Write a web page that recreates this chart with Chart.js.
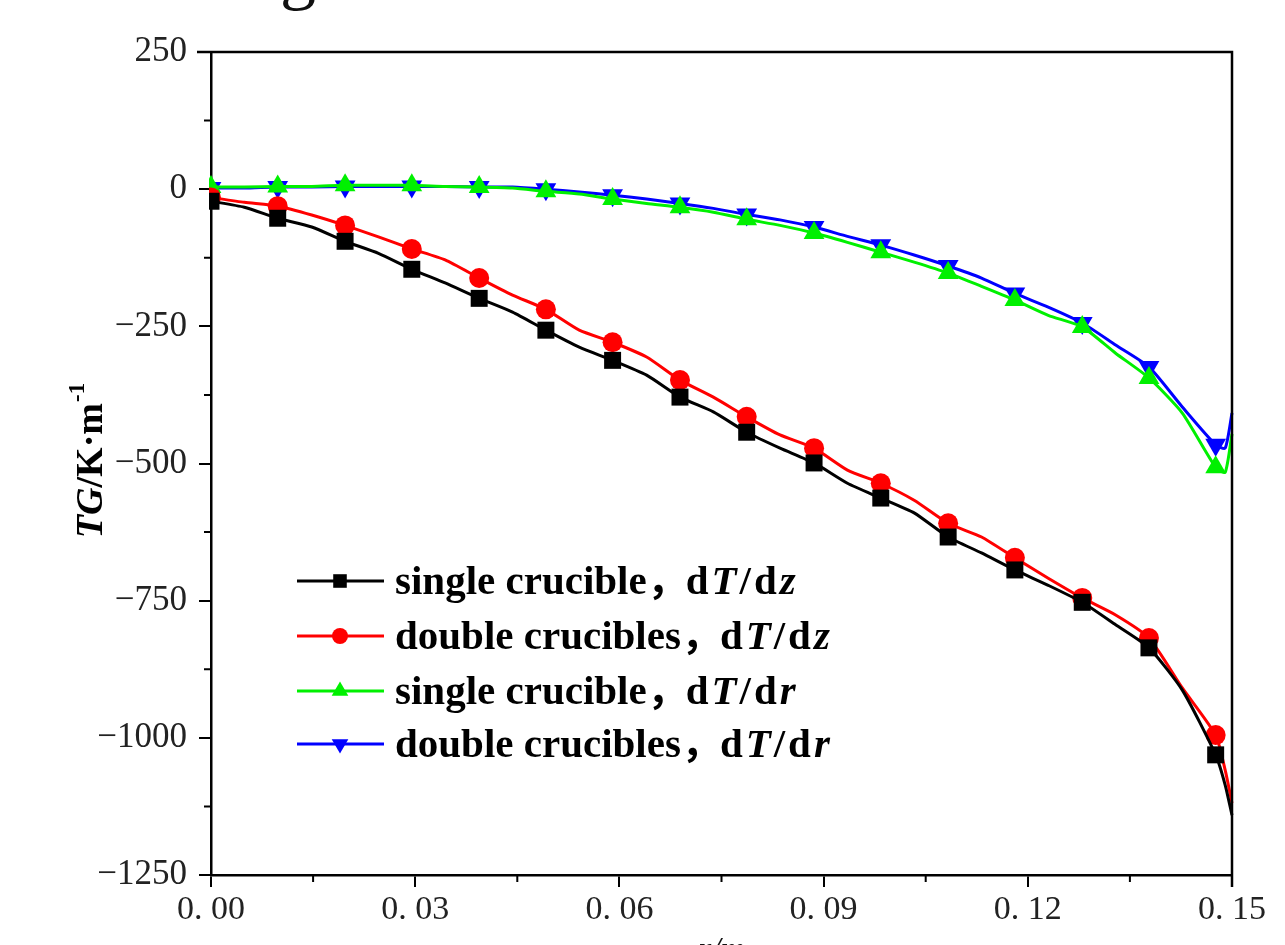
<!DOCTYPE html>
<html>
<head>
<meta charset="utf-8">
<script src="https://cdn.jsdelivr.net/npm/chart.js@4.4.1/dist/chart.umd.min.js"></script>
<style>
    html, body { margin: 0; padding: 0; background: #fff; }
    canvas { display: block; }
</style>
</head>
<body>
<canvas id="tgChart" width="1285" height="945"></canvas>
<script>
// radial position r/m
const positions = [0, 0.0049, 0.0098, 0.0148, 0.0197, 0.0246, 0.0295, 0.0344, 0.0394, 0.0443,
    0.0492, 0.0541, 0.0590, 0.0640, 0.0689, 0.0738, 0.0787, 0.0836, 0.0886, 0.0935,
    0.0984, 0.1033, 0.1083, 0.1132, 0.1181, 0.1230, 0.1280, 0.1329, 0.1378, 0.1427,
    0.1476, 0.1490, 0.1500];

const singleDz = [-22, -33, -53, -69, -95, -117, -146, -171, -199, -224,
    -257, -288, -312, -339, -379, -406, -443, -472, -499, -536,
    -563, -590, -634, -663, -694, -722, -753, -794, -836, -913,
    -1031, -1086, -1141];
const doubleDz = [-15, -24, -31, -47, -66, -87, -109, -129, -162, -193,
    -219, -257, -279, -306, -348, -379, -415, -448, -472, -512,
    -536, -567, -609, -634, -672, -709, -745, -776, -818, -909,
    -995, -1059, -1119];
const singleDr = [4, 4, 5, 5, 7, 7, 7, 5, 4, 2,
    -4, -9, -18, -26, -33, -42, -55, -66, -80, -97,
    -115, -133, -153, -177, -202, -230, -251, -299, -344, -408,
    -507, -516, -446];
const doubleDr = [2, 2, 4, 4, 5, 5, 5, 5, 4, 4,
    0, -5, -11, -18, -26, -35, -46, -56, -69, -86,
    -102, -120, -140, -162, -190, -215, -244, -284, -324, -397,
    -466, -472, -408];

const seriesNames = ['single crucible，', 'double crucibles，', 'single crucible，', 'double crucibles，'];
const seriesQuantities = [
    [['d', false], ['T', true], ['/d', false], ['z', true]],
    [['d', false], ['T', true], ['/d', false], ['z', true]],
    [['d', false], ['T', true], ['/d', false], ['r', true]],
    [['d', false], ['T', true], ['/d', false], ['r', true]],
];

const xTickValues = [0, 0.03, 0.06, 0.09, 0.12, 0.15];
const xTickLabels = ['0. 00', '0. 03', '0. 06', '0. 09', '0. 12', '0. 15'];
const yTickValues = [-1250, -1000, -750, -500, -250, 0, 250];
const yTickLabels = ['\u22121250', '\u22121000', '\u2212750', '\u2212500', '\u2212250', '0', '250'];

const SERIF = '"Liberation Serif", "Noto Sans CJK SC", serif';

function markerRadius(ctx, r) {
    const i = ctx.dataIndex;
    return (i % 2 === 0 && i <= 30) ? r : 0;
}

function makeSeries(values, color, style, radius, rotation) {
    return {
        data: positions.map((x, i) => ({ x: x, y: values[i] })),
        borderColor: color,
        backgroundColor: color,
        borderWidth: 3,
        tension: 0.2,
        pointStyle: style,
        pointRotation: rotation,
        pointRadius: (ctx) => markerRadius(ctx, radius),
        pointHoverRadius: 0,
        pointBorderWidth: 0,
        clip: 2,
        legendStyle: { style: style, radius: radius * 0.8, rotation: rotation },
    };
}

const datasets = [
    makeSeries(singleDz, '#000000', 'rect', 12, 0),
    makeSeries(doubleDz, '#ff0000', 'circle', 10, 0),
    makeSeries(singleDr, '#00f000', 'triangle', 12, 0),
    makeSeries(doubleDr, '#0000ff', 'triangle', 12, 180),
];

function drawLegendText(ctx, name, parts, x, y, size) {
    ctx.font = `bold ${size}px ${SERIF}`;
    ctx.letterSpacing = '0px';
    ctx.fillText(name, x, y);
    let cx = x + ctx.measureText(name).width - 2;
    ctx.letterSpacing = '3px';
    parts.forEach(([text, italic]) => {
        ctx.font = `${italic ? 'italic ' : ''}bold ${size}px ${SERIF}`;
        ctx.fillText(text, cx, y);
        cx += ctx.measureText(text).width;
    });
    ctx.letterSpacing = '0px';
}

const framePlugin = {
    id: 'frame',
    afterDraw(chart) {
        const { ctx, chartArea: a, scales } = chart;
        ctx.save();
        ctx.strokeStyle = '#000';
        ctx.lineWidth = 2.5;
        ctx.beginPath();
        ctx.moveTo(a.left - 14, a.top);
        ctx.lineTo(a.right, a.top);
        ctx.lineTo(a.right, a.bottom + 12);
        ctx.stroke();

        // minor ticks
        ctx.lineWidth = 2;
        ctx.beginPath();
        for (let i = 0; i < yTickValues.length - 1; i++) {
            const py = scales.y.getPixelForValue((yTickValues[i] + yTickValues[i + 1]) / 2);
            ctx.moveTo(a.left, py);
            ctx.lineTo(a.left - 7, py);
        }
        for (let i = 0; i < xTickValues.length - 1; i++) {
            const px = scales.x.getPixelForValue((xTickValues[i] + xTickValues[i + 1]) / 2);
            ctx.moveTo(px, a.bottom);
            ctx.lineTo(px, a.bottom + 7);
        }
        ctx.stroke();

        // legend
        ctx.textBaseline = 'middle';
        ctx.fillStyle = '#000';
        const rowY = [581, 636, 691, 744];
        chart.data.datasets.forEach((ds, i) => {
            const y = rowY[i];
            ctx.strokeStyle = ds.borderColor;
            ctx.lineWidth = 3;
            ctx.beginPath();
            ctx.moveTo(297, y);
            ctx.lineTo(384, y);
            ctx.stroke();
            ctx.fillStyle = ds.backgroundColor;
            Chart.helpers.drawPoint(ctx, {
                pointStyle: ds.legendStyle.style,
                radius: ds.legendStyle.radius,
                rotation: ds.legendStyle.rotation,
                borderWidth: 0,
            }, 340, y);
            ctx.fillStyle = '#000';
            drawLegendText(ctx, seriesNames[i], seriesQuantities[i], 395, y + 2, 41);
        });

        // y axis title
        ctx.save();
        ctx.translate(92, 461);
        ctx.rotate(-Math.PI / 2);
        ctx.textBaseline = 'middle';
        const titleParts = [['TG', true], ['/K·m', false]];
        let w = 0;
        titleParts.forEach(([t, it]) => {
            ctx.font = `${it ? 'italic ' : ''}bold 38px ${SERIF}`;
            w += ctx.measureText(t).width;
        });
        ctx.font = `bold 23px ${SERIF}`;
        const supW = ctx.measureText('-1').width;
        let sx = -(w + supW) / 2;
        titleParts.forEach(([t, it]) => {
            ctx.font = `${it ? 'italic ' : ''}bold 38px ${SERIF}`;
            ctx.fillText(t, sx, 0);
            sx += ctx.measureText(t).width;
        });
        ctx.font = `bold 23px ${SERIF}`;
        ctx.fillText('-1', sx + 1, -14);
        ctx.restore();

        // clipped remnants of the page around the figure
        ctx.textBaseline = 'alphabetic';
        ctx.textAlign = 'center';
        ctx.font = `italic 34px ${SERIF}`;
        ctx.fillStyle = '#111';
        ctx.fillText('r/m', (a.left + a.right) / 2, 960);
        ctx.font = `72px ${SERIF}`;
        ctx.fillText('g', 298, -4);
        ctx.restore();
    },
};

const chart = new Chart(document.getElementById('tgChart'), {
    type: 'line',
    data: { datasets: datasets },
    options: {
        responsive: false,
        animation: false,
        layout: { padding: { top: 52, right: 53, left: 0, bottom: 0 } },
        plugins: {
            legend: { display: false },
            tooltip: { enabled: false },
        },
        scales: {
            x: {
                type: 'linear',
                min: 0,
                max: 0.15,
                afterFit(scale) { scale.height = 70; },
                afterBuildTicks(scale) { scale.ticks = xTickValues.map((v) => ({ value: v })); },
                ticks: {
                    callback: (v, i) => xTickLabels[i],
                    font: { family: SERIF, size: 34 },
                    color: '#222',
                    padding: 3,
                    maxRotation: 0,
                },
                grid: { drawOnChartArea: false, drawTicks: true, tickLength: 12, color: '#000', lineWidth: 2 },
                border: { color: '#000', width: 2.5 },
            },
            y: {
                type: 'linear',
                min: -1250,
                max: 250,
                afterFit(scale) { scale.width = 211; },
                afterBuildTicks(scale) { scale.ticks = yTickValues.map((v) => ({ value: v })); },
                ticks: {
                    callback: (v, i) => yTickLabels[i],
                    font: { family: SERIF, size: 35 },
                    color: '#222',
                    padding: 12,
                },
                grid: { drawOnChartArea: false, drawTicks: true, tickLength: 12, color: '#000', lineWidth: 2 },
                border: { color: '#000', width: 2.5 },
            },
        },
    },
    plugins: [framePlugin],
});
</script>
</body>
</html>
